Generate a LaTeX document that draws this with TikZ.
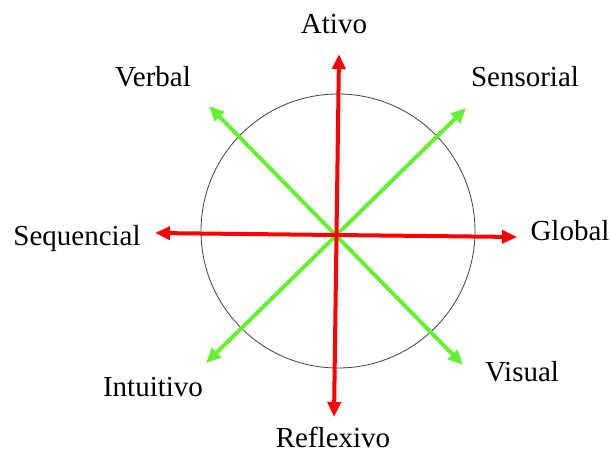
\documentclass[tikz,border=0pt]{standalone}
\usepackage{fontspec}
\setmainfont{Liberation Serif}
\usepackage{xcolor}
\usetikzlibrary{arrows.meta}
\definecolor{vermelho}{HTML}{FF0000}
\definecolor{verde}{HTML}{66F033}
\definecolor{contorno}{HTML}{404040}
\tikzset{
  eixo/.style={{Triangle[length=15pt, width=13pt]}-{Triangle[length=15pt, width=13pt]},
    line width=4pt, color=vermelho},
  eixodiag/.style={eixo, color=verde},
  roda/.style={draw=contorno, line width=0.8pt},
  rotulo/.style={anchor=base, inner sep=0pt, font=\fontsize{29}{32}\selectfont}
}
\begin{document}
\begin{tikzpicture}[x=1pt, y=-1pt]
  \useasboundingbox (0,0) rectangle (610,453);

  % circulo
  \node[roda, circle, minimum size=274pt, inner sep=0pt] (roda) at (338,231) {};

  % pontas dos eixos
  \coordinate (pAtivo) at (339,54);
  \coordinate (pReflexivo) at (334,417);
  \coordinate (pSequencial) at (155,233);
  \coordinate (pGlobal) at (517,237);
  \coordinate (pVerbal) at (209,106);
  \coordinate (pVisual) at (463,365);
  \coordinate (pSensorial) at (466,108);
  \coordinate (pIntuitivo) at (206,363);

  % rotulos
  \node[rotulo] (ativo) at (334,33) {Ativo};
  \node[rotulo] (reflexivo) at (333,447) {Reflexivo};
  \node[rotulo] (sequencial) at (77,245) {Sequencial};
  \node[rotulo] (global) at (570,240) {Global};
  \node[rotulo] (verbal) at (153,86) {Verbal};
  \node[rotulo] (sensorial) at (525,86) {Sensorial};
  \node[rotulo] (intuitivo) at (153,396) {Intuitivo};
  \node[rotulo] (visual) at (522,381) {Visual};

  % eixos
  \draw[eixodiag] (pVerbal) -- (pVisual);
  \draw[eixodiag] (pIntuitivo) -- (pSensorial);
  \draw[eixo] (pSequencial) -- (pGlobal);
  \draw[eixo] (pReflexivo) -- (pAtivo);
\end{tikzpicture}
\end{document}
